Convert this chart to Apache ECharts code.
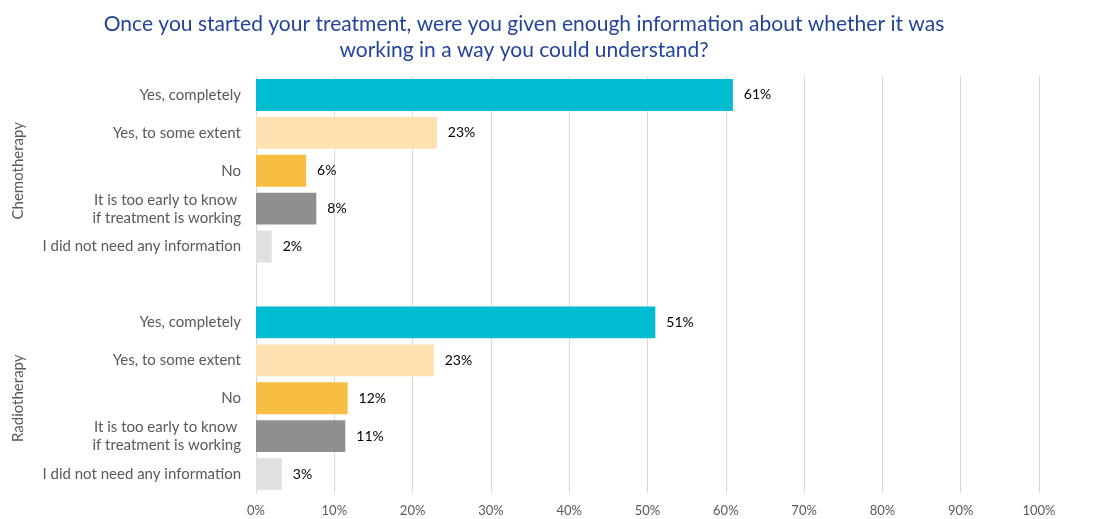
<!DOCTYPE html>
<html>
<head>
<meta charset="utf-8">
<script src="https://cdn.jsdelivr.net/npm/echarts@6/dist/echarts.min.js"></script>
<style>html,body{margin:0;padding:0;background:#fff}#c{width:1109px;height:519px}</style>
</head>
<body>
<div id="c"></div>
<script>
var titleText = 'Once you started your treatment, were you given enough information about whether it was\nworking in a way you could understand?';
var answers = ['Yes, completely', 'Yes, to some extent', 'No', 'It is too early to know \nif treatment is working', 'I did not need any information'];
var groups = ['Chemotherapy', 'Radiotherapy'];
var chemoValues = [60.9, 23.1, 6.4, 7.7, 2.0];
var radioValues = [51.0, 22.7, 11.7, 11.4, 3.3];
var answerColors = ['#00BCD1', '#FFE0B0', '#F7BE42', '#8F8F8F', '#E0E0E0'];
var xTicks = [0, 10, 20, 30, 40, 50, 60, 70, 80, 90, 100];

// build the 11 slots: 5 chemo, gap, 5 radio
var catLabels = [], catGroup = [], seriesData = [];
function addGroup(gi, vals) {
  vals.forEach(function (v, i) {
    catLabels.push(answers[i]);
    catGroup.push(i === 2 ? groups[gi] : '');
    seriesData.push({ value: v, itemStyle: { color: answerColors[i] } });
  });
}
addGroup(0, chemoValues);
catLabels.push(''); catGroup.push(''); seriesData.push(null);
addGroup(1, radioValues);
var catKeys = catLabels.map(function (_, i) { return 'c' + i; });

var FONT = 'Lato';
var chart = echarts.init(document.getElementById('c'));
chart.setOption({
  animation: false,
  textStyle: { fontFamily: FONT },
  title: {
    text: titleText,
    left: 519, top: 6, textAlign: 'center',
    textStyle: { color: '#23449A', fontSize: 21, fontWeight: 'normal', lineHeight: 26, fontFamily: FONT }
  },
  grid: { left: 256, right: 70, top: 76, bottom: 26, containLabel: false },
  xAxis: {
    type: 'value', min: xTicks[0], max: xTicks[xTicks.length - 1], interval: 10,
    axisLine: { show: false }, axisTick: { show: false },
    splitLine: { show: true, lineStyle: { color: '#D9D9D9', width: 1 } },
    axisLabel: { color: '#595959', fontSize: 13, margin: 11, formatter: function (v) { return v + '%'; } }
  },
  yAxis: [{
    type: 'category', inverse: true, data: catKeys,
    axisLine: { show: true, lineStyle: { color: '#D9D9D9' } }, axisTick: { show: false },
    axisLabel: {
      color: '#595959', fontSize: 15, lineHeight: 18, margin: 15, interval: 0, padding: [4, 0, 0, 0],
      formatter: function (v) { return catLabels[catKeys.indexOf(v)]; }
    }
  }, {
    type: 'category', inverse: true, data: catKeys, position: 'left',
    axisLine: { show: false }, axisTick: { show: false },
    axisLabel: {
      color: '#595959', fontSize: 15, rotate: 90, margin: 230, interval: 0,
      formatter: function (v) { return catGroup[catKeys.indexOf(v)]; }
    }
  }],
  series: [{
    type: 'bar', yAxisIndex: 0, data: seriesData, barCategoryGap: '16%',
    label: {
      show: true, position: 'right', distance: 11, color: '#000', fontSize: 14, padding: [3, 0, 0, 0],
      formatter: function (p) { return Math.round(p.value) + '%'; }
    }
  }]
});
</script>
</body>
</html>
